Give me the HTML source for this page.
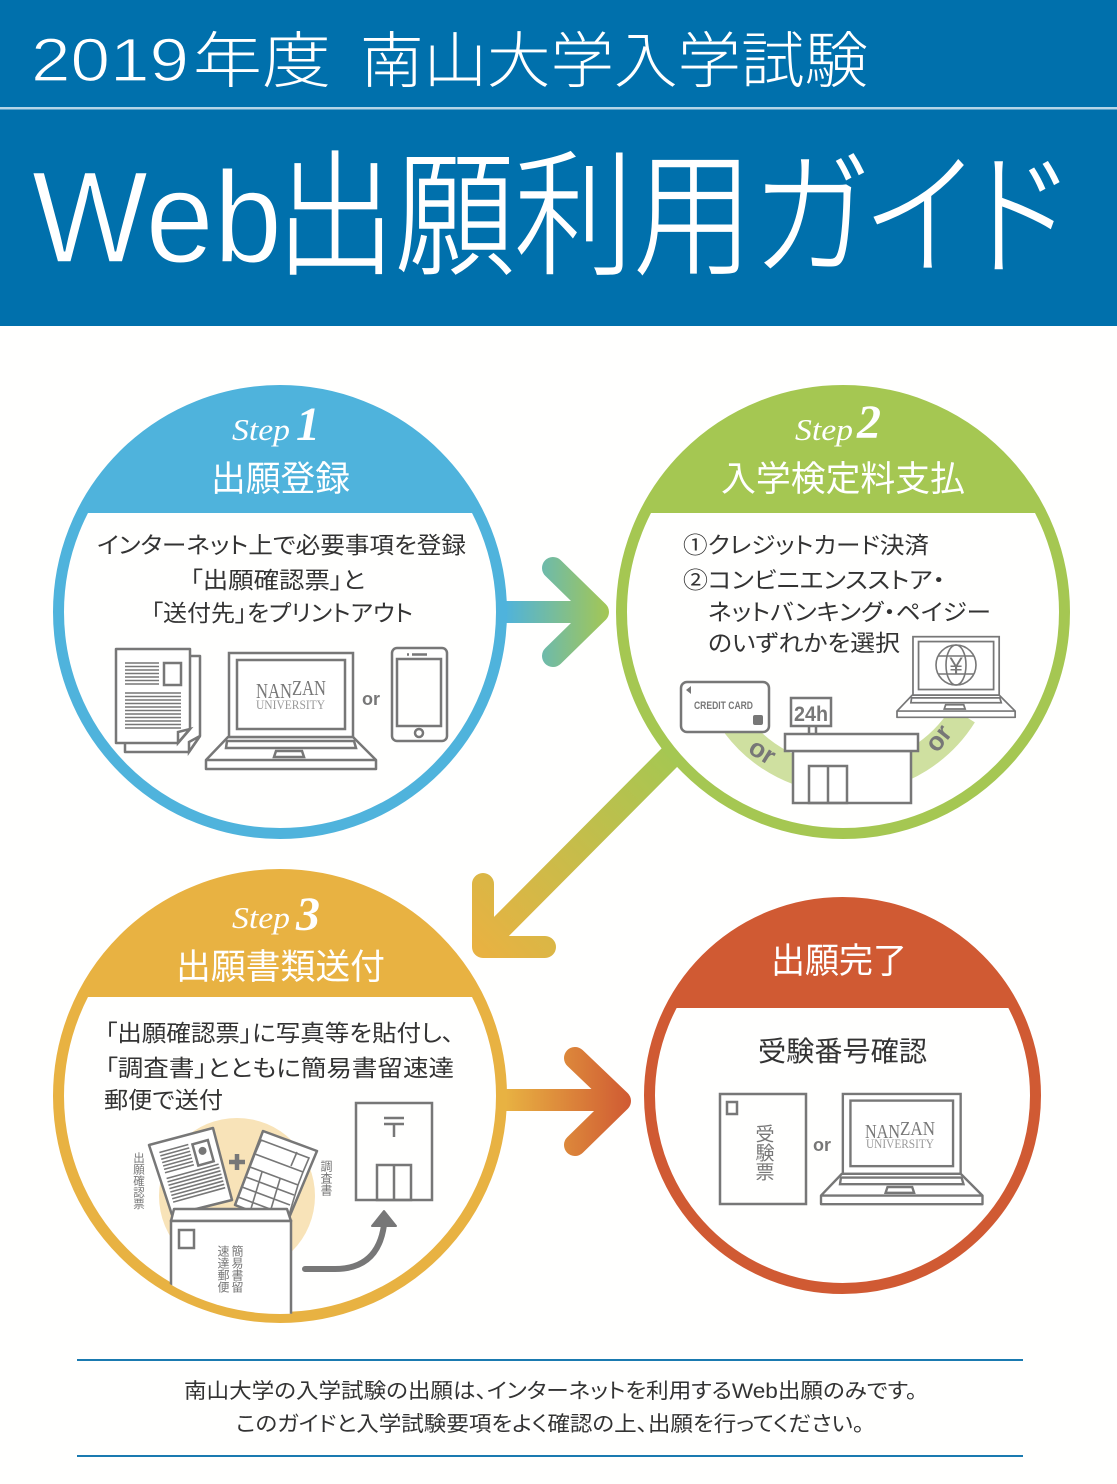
<!DOCTYPE html>
<html lang="ja"><head><meta charset="utf-8"><title>2019年度 南山大学入学試験 Web出願利用ガイド</title>
<style>
html,body{margin:0;padding:0;background:#fff}
svg{display:block}
text{font-family:"Liberation Sans","Noto Sans CJK JP",sans-serif;font-feature-settings:"palt"}
.b{font-size:23px;fill:#333;font-weight:400}
.h{font-size:35px;fill:#fff;font-weight:400}
.s{font-family:"Liberation Serif",serif;font-style:italic;fill:#fff}
.i{fill:none;stroke:#777;stroke-width:2.5}
.w{fill:#fff;stroke:#777;stroke-width:2.5}
.l{stroke:#777;stroke-width:1.6;fill:none}
.v{writing-mode:vertical-rl;fill:#777;font-size:12px;font-feature-settings:normal}
.o{fill:#777;font-size:18px;font-weight:700}
</style></head><body>
<svg xmlns="http://www.w3.org/2000/svg" width="1117" height="1484" viewBox="0 0 1117 1484">
<defs>
<linearGradient id="g1" gradientUnits="userSpaceOnUse" x1="505" y1="612" x2="610" y2="612"><stop offset="0" stop-color="#4fb3dc"/><stop offset="1" stop-color="#a5c752"/></linearGradient>
<linearGradient id="g2" gradientUnits="userSpaceOnUse" x1="675" y1="755" x2="480" y2="950"><stop offset="0" stop-color="#a5c752"/><stop offset="1" stop-color="#e8b242"/></linearGradient>
<linearGradient id="g3" gradientUnits="userSpaceOnUse" x1="505" y1="1100" x2="630" y2="1100"><stop offset="0" stop-color="#e8b242"/><stop offset="1" stop-color="#d05a33"/></linearGradient>
<clipPath id="c1"><rect x="0" y="0" width="1117" height="513"/></clipPath>
<clipPath id="c3"><rect x="0" y="0" width="1117" height="997"/></clipPath>
<clipPath id="c4"><rect x="0" y="0" width="1117" height="1008"/></clipPath>
<clipPath id="c3i"><circle cx="280" cy="1096" r="218"/></clipPath>
<g id="lap">
<path d="M22 85 L147 85 L170 108 V117 H0 V108 Z" fill="#fff" stroke="#777" stroke-width="2.5" stroke-linejoin="round"/>
<path d="M0 108 H170" class="i"/>
<rect x="23" y="1" width="124" height="84" class="w"/>
<rect x="31" y="8" width="108" height="69" class="i"/>
<path d="M21 89 H148 L150 96 H20 Z" class="i" stroke-width="1.6"/>
<path d="M68 105 L70 99 H96 L98 105 Z" class="i"/>
</g>
</defs>

<rect width="1117" height="1484" fill="#fffffe"/>
<rect width="1117" height="326" fill="#0070ac"/>
<rect y="107" width="1117" height="2.5" fill="#b5d5e8"/>
<text x="31" y="81" font-size="61" fill="#fff" stroke="#0070ac" stroke-width="1.2" paint-order="fill stroke" textLength="158" lengthAdjust="spacingAndGlyphs">2019</text>
<text x="193" y="82" font-size="61" fill="#fff" font-weight="300" textLength="138" lengthAdjust="spacingAndGlyphs">年度</text>
<text x="360" y="82" font-size="61" fill="#fff" font-weight="300" textLength="508" lengthAdjust="spacingAndGlyphs">南山大学入学試験</text>
<text x="32" y="262" font-size="130" fill="#fff" stroke="#0070ac" stroke-width="1.5" paint-order="fill stroke" textLength="250" lengthAdjust="spacingAndGlyphs">Web</text>
<text x="276" y="264" font-size="136" fill="#fff" stroke="#fff" stroke-width="1" font-weight="300" textLength="790" lengthAdjust="spacingAndGlyphs">出願利用ガイド</text>

<!-- arrows -->
<g fill="none" stroke-width="22" stroke-linecap="round" stroke-linejoin="round">
<path d="M505 612 H595" stroke="url(#g1)"/>
<path d="M553 568 L598 612 L553 656" stroke="url(#g1)"/>
<path d="M672 755 L490 938" stroke="url(#g2)" stroke-width="24"/>
<path d="M483 884 V947 H545" stroke="url(#g2)"/>
<path d="M505 1100 H615" stroke="url(#g3)"/>
<path d="M575 1058 L620 1101 L575 1145" stroke="url(#g3)"/>
</g>

<!-- Step 1 -->
<circle cx="280" cy="612" r="221.5" fill="#fffffe" stroke="#4fb3dc" stroke-width="11"/>
<circle cx="280" cy="612" r="226" fill="#4fb3dc" clip-path="url(#c1)"/>
<text class="s" x="232" y="440" font-size="31" textLength="58" lengthAdjust="spacingAndGlyphs">Step</text>
<text class="s" x="296" y="440" font-size="48" font-weight="700">1</text>
<text class="h" x="211" y="491" textLength="139" lengthAdjust="spacingAndGlyphs">出願登録</text>
<text class="b" x="97" y="553" textLength="369" lengthAdjust="spacingAndGlyphs">インターネット上で必要事項を登録</text>
<text class="b" x="190" y="588" textLength="175" lengthAdjust="spacingAndGlyphs">「出願確認票」と</text>
<text class="b" x="151" y="621" textLength="262" lengthAdjust="spacingAndGlyphs">「送付先」をプリントアウト</text>
<path d="M125 656 H200 V736 L189 752 H125 Z" class="w" stroke-linejoin="round"/>
<path d="M116 649 H190 V729 L178 743 H116 Z" class="w" stroke-linejoin="round"/>
<path d="M190 729 L178 743 L178 732 Z" class="i"/>
<path d="M200 736 L189 752 L189 742 Z" class="i"/>
<rect x="164" y="663" width="17" height="22" class="i"/>
<path class="l" d="M125 663H159M125 666.5H159M125 670H159M125 673.500H159M125 677H159M125 680.500H159M125 684H159M125 693H181M125 696.500H181M125 700H181M125 703.500H181M125 707H181M125 710.500H181M125 714H181M125 717.500H181M125 721H181M125 724.500H181M125 728H181"/>
<use href="#lap" x="206" y="652"/>
<text x="256" y="698" font-size="21" fill="#777" style="font-family:'Liberation Serif',serif" textLength="36" lengthAdjust="spacingAndGlyphs">NAN</text>
<text x="292" y="695" font-size="21" fill="#777" style="font-family:'Liberation Serif',serif" textLength="34" lengthAdjust="spacingAndGlyphs">ZAN</text>
<text x="256" y="709" font-size="13" fill="#999" style="font-family:'Liberation Serif',serif" textLength="69" lengthAdjust="spacingAndGlyphs">UNIVERSITY</text>
<text class="o" x="362" y="705">or</text>
<rect x="392" y="648" width="55" height="93" rx="5" class="i"/>
<rect x="397" y="659" width="44" height="67" class="i"/>
<circle cx="419" cy="733" r="4" class="i" stroke-width="1.8"/>
<path d="M412 654.500H427M407 654.500H409" class="i"/>

<!-- Step 2 -->
<circle cx="843" cy="612" r="221.500" fill="#fffffe" stroke="#a5c752" stroke-width="11"/>
<circle cx="843" cy="612" r="226" fill="#a5c752" clip-path="url(#c1)"/>
<text class="s" x="795" y="440" font-size="31" textLength="58" lengthAdjust="spacingAndGlyphs">Step</text>
<text class="s" x="857" y="438" font-size="48" font-weight="700">2</text>
<text class="h" x="721" y="491" textLength="244" lengthAdjust="spacingAndGlyphs">入学検定料支払</text>
<text class="b" x="683" y="553" textLength="246" lengthAdjust="spacingAndGlyphs">①クレジットカード決済</text>
<text class="b" x="683" y="588" textLength="262" lengthAdjust="spacingAndGlyphs">②コンビニエンスストア・</text>
<text class="b" x="708" y="620" textLength="283" lengthAdjust="spacingAndGlyphs">ネットバンキング・ペイジー</text>
<text class="b" x="708" y="651" textLength="192" lengthAdjust="spacingAndGlyphs">のいずれかを選択</text>
<path d="M736 725 A138 138 0 0 0 963 715" fill="none" stroke="#cfe0a0" stroke-width="28"/>
<text x="762" y="760" font-size="26" font-weight="700" fill="#777" text-anchor="middle" transform="rotate(32 762 752)">or</text>
<text x="938" y="747" font-size="26" font-weight="700" fill="#777" text-anchor="middle" transform="rotate(-52 938 738)">or</text>
<rect x="681" y="682" width="88" height="50" rx="6" class="w"/>
<path d="M691 686 V694 L686 690 Z" fill="#777"/>
<text x="694" y="709" font-size="11" font-weight="700" fill="#777" textLength="59" lengthAdjust="spacingAndGlyphs">CREDIT CARD</text>
<rect x="753" y="715" width="10" height="10" rx="2" fill="#777"/>
<rect x="791" y="698" width="40" height="28" class="w"/>
<text x="794" y="721" font-size="21" font-weight="700" fill="#777" textLength="34" lengthAdjust="spacingAndGlyphs">24h</text>
<path d="M809 726V734M816 726V734" class="i"/>
<rect x="793" y="751" width="118" height="52" class="w"/>
<rect x="785" y="734" width="133" height="17" class="w"/>
<rect x="809" y="766" width="38" height="37" class="i"/>
<path d="M828 766V803" class="i"/>
<use href="#lap" transform="translate(897 636) scale(.695)"/>
<g class="l" stroke-width="1.5">
<circle cx="956" cy="665" r="20"/>
<ellipse cx="956" cy="665" rx="10" ry="20"/>
<path d="M938 656H974M938 674H974"/>
</g>
<text x="956" y="674" font-size="24" fill="#777" text-anchor="middle">¥</text>

<!-- Step 3 -->
<circle cx="280" cy="1096" r="221.500" fill="#fffffe" stroke="#e8b242" stroke-width="11"/>
<circle cx="280" cy="1096" r="226" fill="#e8b242" clip-path="url(#c3)"/>
<text class="s" x="232" y="928" font-size="31" textLength="58" lengthAdjust="spacingAndGlyphs">Step</text>
<text class="s" x="296" y="930" font-size="48" font-weight="700">3</text>
<text class="h" x="176" y="979" textLength="209" lengthAdjust="spacingAndGlyphs">出願書類送付</text>
<text class="b" x="105" y="1041" textLength="349" lengthAdjust="spacingAndGlyphs">「出願確認票」に写真等を貼付し、</text>
<text class="b" x="105" y="1076" textLength="349" lengthAdjust="spacingAndGlyphs">「調査書」とともに簡易書留速達</text>
<text class="b" x="104" y="1108" textLength="119" lengthAdjust="spacingAndGlyphs">郵便で送付</text>
<circle cx="237" cy="1196" r="78" fill="#f8e3b8"/>
<g clip-path="url(#c3i)">
<path d="M149 1145 L213 1128 L232 1200 L172 1215 Z" class="w" stroke-linejoin="round"/>
<g transform="rotate(-15.500 149 1145)">
<rect x="191" y="1156" width="16" height="22" class="i" stroke-width="2"/>
<circle cx="199" cy="1165" r="4" fill="#777"/>
<path class="l" d="M157 1155H187M157 1158.500H187M157 1162H187M157 1165.500H187M157 1169H187M157 1172.500H187M157 1176H187M157 1182H211M157 1185.500H211M157 1189H211M157 1192.500H211M157 1196H211M157 1199.500H211M157 1203H211M157 1206.500H211"/>
</g>
<path d="M263 1131 L317 1151 L286 1225 L235 1205 Z" class="w" stroke-linejoin="round"/>
<path d="M261 1140 L309 1158 L303 1172 L255 1154 Z M255 1154 L250 1167 L298 1185 L303 1172 M250 1167 L235 1205 M298 1185 L286 1225 M246 1177 L294 1195 M242 1187 L290 1205 M238 1197 L286 1215 M262 1172 L250 1212 M280 1179 L268 1219 M291 1166 L297 1152" class="l"/>
<path d="M229 1162 H245 M237 1154 V1170" stroke="#777" stroke-width="4.500" fill="none"/>
<path d="M174 1209 H287 L291 1221 H171 Z" class="w" stroke-linejoin="round"/>
<rect x="171" y="1221" width="120" height="110" class="w"/>
<rect x="179" y="1230" width="15" height="18" class="i"/>
<path d="M305 1269 H335 Q378 1269 384 1225" fill="none" stroke="#777" stroke-width="6" stroke-linecap="round"/>
<path d="M384 1211 L396 1226 H372 Z" fill="#777" stroke="#777" stroke-width="2" stroke-linejoin="round"/>
</g>
<text class="v" x="138" y="1152" style="font-size:11.500px">出願確認票</text>
<text class="v" x="326" y="1160">調査書</text>
<text class="v" x="237" y="1245">簡易書留</text>
<text class="v" x="223" y="1245">速達郵便</text>
<rect x="356" y="1103" width="76" height="97" class="i"/>
<path d="M384 1118H404M384 1124H404M394 1124V1137" class="i"/>
<rect x="377" y="1165" width="34" height="35" class="i"/>
<path d="M394 1165V1200" class="i"/>

<!-- Final -->
<circle cx="842.500" cy="1095.500" r="193" fill="#fffffe" stroke="#d05a33" stroke-width="11"/>
<circle cx="842.500" cy="1095.500" r="198" fill="#d05a33" clip-path="url(#c4)"/>
<text class="h" x="771" y="973" textLength="136" lengthAdjust="spacingAndGlyphs">出願完了</text>
<text class="b" x="758" y="1061" style="font-size:28px" textLength="169" lengthAdjust="spacingAndGlyphs">受験番号確認</text>
<rect x="720" y="1094" width="86" height="110" class="i"/>
<rect x="727" y="1102" width="10" height="12" class="i"/>
<text x="763" y="1124" font-size="19" fill="#777" style="writing-mode:vertical-rl;font-feature-settings:normal">受験票</text>
<text class="o" x="813" y="1151">or</text>
<use href="#lap" transform="translate(821 1093) scale(.95)"/>
<text x="865" y="1138" font-size="20" fill="#777" style="font-family:'Liberation Serif',serif" textLength="35" lengthAdjust="spacingAndGlyphs">NAN</text>
<text x="900" y="1135" font-size="20" fill="#777" style="font-family:'Liberation Serif',serif" textLength="35" lengthAdjust="spacingAndGlyphs">ZAN</text>
<text x="866" y="1148" font-size="12.500" fill="#999" style="font-family:'Liberation Serif',serif" textLength="68" lengthAdjust="spacingAndGlyphs">UNIVERSITY</text>

<!-- footer -->
<rect x="77" y="1359" width="946" height="2" fill="#1a7ab0"/>
<rect x="77" y="1455" width="946" height="2" fill="#1a7ab0"/>
<text x="184" y="1398" font-size="21" fill="#333" font-weight="400" textLength="733" lengthAdjust="spacingAndGlyphs">南山大学の入学試験の出願は、インターネットを利用するWeb出願のみです。</text>
<text x="236" y="1431" font-size="21" fill="#333" font-weight="400" textLength="628" lengthAdjust="spacingAndGlyphs">このガイドと入学試験要項をよく確認の上、出願を行ってください。</text>
</svg>
</body></html>
